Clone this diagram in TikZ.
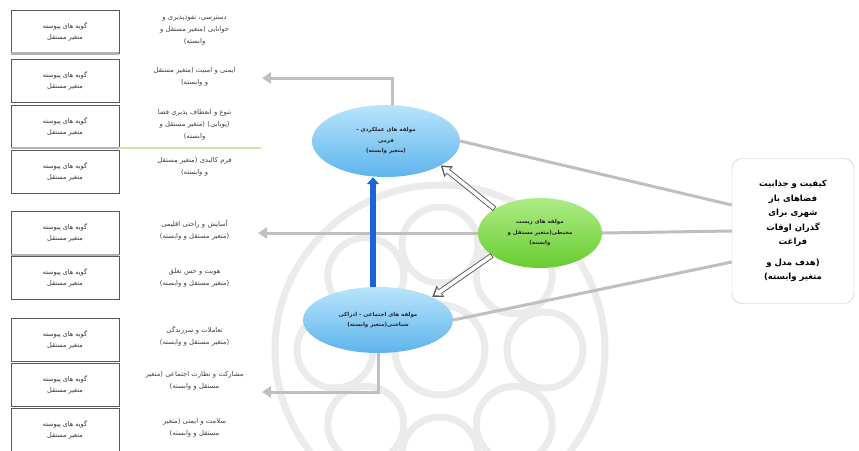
\documentclass[tikz,border=0pt]{standalone}
\usepackage{fontspec}
\usetikzlibrary{positioning,shapes.geometric,arrows.meta}
\newfontfamily\farsi[Script=Arabic]{DejaVu Sans}
\TeXXeTstate=1
\newcommand{\fa}[1]{\beginR #1\endR}
\definecolor{skytop}{HTML}{B8E4FB}
\definecolor{skybot}{HTML}{5EB4EC}
\definecolor{leaftop}{HTML}{AEEC85}
\definecolor{leafbot}{HTML}{68CC30}
\definecolor{pathblue}{HTML}{1F62D8}
\definecolor{paleleaf}{HTML}{CDE8A8}

\begin{document}
\begin{tikzpicture}[x=1pt,y=-1pt,
  item node/.style={rectangle,draw=black!65,line width=0.7pt,minimum width=108pt,
    minimum height=43pt,inner sep=1pt,align=center,text=black!80,
    font=\farsi\fontsize{6.5}{11}\selectfont},
  note node/.style={text width=120pt,align=center,inner sep=1pt,text=black!75,
    font=\farsi\fontsize{6.8}{12}\selectfont},
  factor node/.style={ellipse,inner sep=0pt,align=center,text=black!85,
    font=\farsi\bfseries\fontsize{5.5}{10.5}\selectfont},
  goal node/.style={rectangle,rounded corners=10pt,draw=black!25,fill=white,
    minimum width=122pt,minimum height=145pt,align=center,
    font=\farsi\bfseries\fontsize{8.5}{14.5}\selectfont},
  link line/.style={draw=black!25,line width=3pt},
  link arrow/.style={link line,-{Triangle[length=9pt,width=11pt]}},
  hollow outer/.style={draw=black!65,line width=5.4pt,-{Triangle[length=10pt,width=13pt]}},
  hollow inner/.style={draw=white,line width=3.6pt,shorten >=2.6pt,shorten <=0.9pt,
    -{Triangle[length=6.5pt,width=8.6pt]}},
  mark line/.style={draw=black!8,line width=7pt}]

  \useasboundingbox (0,0) rectangle (859,450);

  % watermark
  \begin{scope}
    \clip (0,0) rectangle (859,450);
    \draw[mark line] (440,350) circle (165);
    \draw[mark line] (440,350) circle (45);
    \foreach \a in {0,45,...,315}
      \draw[mark line,shift={(440,350)}] (\a:105) circle (38);
  \end{scope}

  % items
  \node[item node] (b1) at (65,32) {\fa{گویه های پیوسته}\\\fa{متغیر مستقل}};
  \node[item node] (b2) [below=5pt of b1] {\fa{گویه های پیوسته}\\\fa{متغیر مستقل}};
  \node[item node] (b3) [below=2pt of b2] {\fa{گویه های پیوسته}\\\fa{متغیر مستقل}};
  \node[item node] (b4) [below=2pt of b3] {\fa{گویه های پیوسته}\\\fa{متغیر مستقل}};
  \node[item node] (b5) [below=17pt of b4] {\fa{گویه های پیوسته}\\\fa{متغیر مستقل}};
  \node[item node] (b6) [below=1pt of b5] {\fa{گویه های پیوسته}\\\fa{متغیر مستقل}};
  \node[item node] (b7) [below=19pt of b6] {\fa{گویه های پیوسته}\\\fa{متغیر مستقل}};
  \node[item node] (b8) [below=1pt of b7] {\fa{گویه های پیوسته}\\\fa{متغیر مستقل}};
  \node[item node] (b9) [below=1pt of b8] {\fa{گویه های پیوسته}\\\fa{متغیر مستقل}};

  \draw[draw=black!30,line width=3pt] (b1.south west) -- (b1.south east);
  \draw[draw=black!30,line width=2pt] (b3.south west) -- (b3.south east);
  \draw[draw=black!30,line width=2pt] (b5.south west) -- (b5.south east);
  \draw[draw=paleleaf,line width=2pt] (b3.south east) -- ++(142,0);

  % notes
  \node[note node,yshift=2pt] (n1) [right=14pt of b1] {\fa{دسترسی، نفوذپذیری و}\\\fa{خوانایی (متغیر مستقل و}\\\fa{وابسته)}};
  \node[note node,yshift=4pt] (n2) [right=14pt of b2] {\fa{ایمنی و امنیت (متغیر مستقل}\\\fa{و وابسته)}};
  \node[note node,yshift=2pt] (n3) [right=14pt of b3] {\fa{تنوع و انعطاف پذیری فضا}\\\fa{(پویایی) (متغیر مستقل و}\\\fa{وابسته)}};
  \node[note node,yshift=5pt] (n4) [right=14pt of b4] {\fa{فرم کالبدی (متغیر مستقل}\\\fa{و وابسته)}};
  \node[note node,yshift=3pt] (n5) [right=14pt of b5] {\fa{آسایش و راحتی اقلیمی}\\\fa{(متغیر مستقل و وابسته)}};
  \node[note node] (n6) [right=14pt of b6] {\fa{هویت و حس تعلق}\\\fa{(متغیر مستقل و وابسته)}};
  \node[note node,yshift=4pt] (n7) [right=14pt of b7] {\fa{تعاملات و سرزندگی}\\\fa{(متغیر مستقل و وابسته)}};
  \node[note node,yshift=4pt] (n8) [right=14pt of b8] {\fa{مشارکت و نظارت اجتماعی (متغیر}\\\fa{مستقل و وابسته)}};
  \node[note node,yshift=2pt] (n9) [right=14pt of b9] {\fa{سلامت و ایمنی (متغیر}\\\fa{مستقل و وابسته)}};

  % factors
  \node[factor node,minimum width=148pt,minimum height=72pt,top color=skytop,bottom color=skybot] (form) at (386,141)
    {\fa{مولفه های عملکردی -}\\\fa{فرمی}\\\fa{(متغیر وابسته)}};
  \node[factor node,minimum width=124pt,minimum height=70pt,top color=leaftop,bottom color=leafbot] (env) at (540,233)
    {\fa{مولفه های زیست}\\\fa{محیطی(متغیر مستقل و}\\\fa{وابسته)}};
  \node[factor node,minimum width=150pt,minimum height=66pt,top color=skytop,bottom color=skybot] (soc) at (378,320)
    {\fa{مولفه های اجتماعی - ادراکی}\\\fa{شناختی(متغیر وابسته)}};

  \node[goal node] (goal) at (793,231)
    {\fa{کیفیت و جذابیت}\\\fa{فضاهای باز}\\\fa{شهری برای}\\\fa{گذران اوقات}\\\fa{فراغت}\\[6pt]\fa{(هدف مدل و}\\\fa{متغیر وابسته)}};

  \coordinate (form end) at (262,78);
  \coordinate (env end) at (258,233);
  \coordinate (soc end) at (262,392);

  \draw[link arrow] ([xshift=6pt]form.north) |- (form end);
  \draw[link arrow] (env.west) -- (env end);
  \draw[link arrow] (soc.south) |- (soc end);

  \draw[link line] (form.east) -- ([yshift=26pt]goal.west);
  \draw[link line] (env.east) -- (goal.west);
  \draw[link line] (soc.east) -- ([yshift=-31pt]goal.west);

  \draw[hollow outer] (env.152) -- (form.-24);
  \draw[hollow inner] (env.152) -- (form.-24);
  \draw[hollow outer] (env.205) -- (soc.23);
  \draw[hollow inner] (env.205) -- (soc.23);
  \draw[pathblue,line width=5.5pt,-{Triangle[length=7pt,width=12pt]}] ([xshift=-5pt]soc.north) -- ([xshift=-5pt]soc.north |- form.south);
\end{tikzpicture}
\end{document}
